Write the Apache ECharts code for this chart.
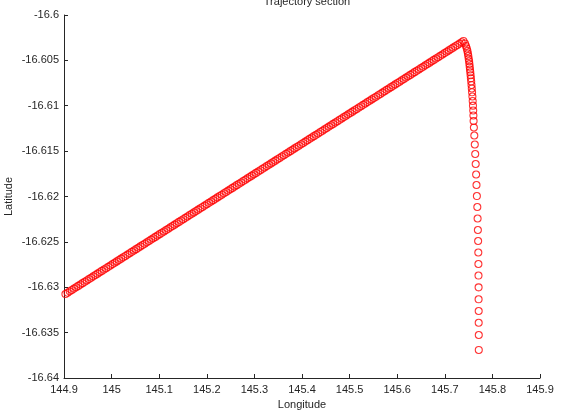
<!DOCTYPE html>
<html>
<head>
<meta charset="utf-8">
<script src="https://cdn.jsdelivr.net/npm/echarts@6/dist/echarts.min.js"></script>
<style>
html,body{margin:0;padding:0;background:#fff;}
#chart{width:569px;height:411px;}
</style>
</head>
<body>
<div id="chart"></div>
<script>
// Outbound leg (west → east, rising)
var outLon = [
144.9030,144.9075,144.9120,144.9165,144.9210,144.9255,144.9300,144.9345,144.9390,144.9435,144.9480,144.9525,144.9570,144.9615,144.9660,144.9705,144.9750,144.9795,144.9840,144.9885,
144.9930,144.9975,145.0020,145.0065,145.0110,145.0155,145.0200,145.0245,145.0290,145.0335,145.0380,145.0425,145.0470,145.0515,145.0560,145.0605,145.0650,145.0695,145.0740,145.0785,
145.0830,145.0875,145.0920,145.0965,145.1010,145.1055,145.1100,145.1145,145.1190,145.1235,145.1280,145.1325,145.1370,145.1415,145.1460,145.1505,145.1550,145.1595,145.1640,145.1685,
145.1730,145.1775,145.1820,145.1865,145.1910,145.1955,145.2000,145.2045,145.2090,145.2135,145.2180,145.2225,145.2270,145.2315,145.2360,145.2405,145.2450,145.2495,145.2540,145.2585,
145.2630,145.2675,145.2720,145.2765,145.2810,145.2855,145.2900,145.2945,145.2990,145.3035,145.3080,145.3125,145.3170,145.3215,145.3260,145.3305,145.3350,145.3395,145.3440,145.3485,
145.3530,145.3575,145.3620,145.3665,145.3710,145.3755,145.3800,145.3845,145.3890,145.3935,145.3980,145.4025,145.4070,145.4115,145.4160,145.4205,145.4250,145.4295,145.4340,145.4385,
145.4430,145.4475,145.4520,145.4565,145.4610,145.4655,145.4700,145.4745,145.4790,145.4835,145.4880,145.4925,145.4970,145.5015,145.5060,145.5105,145.5150,145.5195,145.5240,145.5285,
145.5330,145.5375,145.5420,145.5465,145.5510,145.5555,145.5600,145.5645,145.5690,145.5735,145.5780,145.5825,145.5870,145.5915,145.5960,145.6005,145.6050,145.6095,145.6140,145.6185,
145.6230,145.6275,145.6320,145.6365,145.6410,145.6455,145.6500,145.6545,145.6590,145.6635,145.6680,145.6725,145.6770,145.6815,145.6860,145.6905,145.6950,145.6995,145.7040,145.7085,
145.7130,145.7175,145.7220,145.7265,145.7310,145.7355,145.7392
];
var outLat = [
-16.63075,-16.63060,-16.63045,-16.63030,-16.63015,-16.63000,-16.62985,-16.62970,-16.62955,-16.62940,-16.62925,-16.62910,-16.62895,-16.62880,-16.62865,-16.62850,-16.62835,-16.62820,-16.62805,-16.62790,
-16.62775,-16.62760,-16.62745,-16.62730,-16.62715,-16.62700,-16.62685,-16.62670,-16.62655,-16.62640,-16.62625,-16.62610,-16.62595,-16.62580,-16.62565,-16.62550,-16.62535,-16.62520,-16.62505,-16.62490,
-16.62475,-16.62460,-16.62445,-16.62430,-16.62415,-16.62400,-16.62385,-16.62370,-16.62355,-16.62340,-16.62325,-16.62310,-16.62295,-16.62280,-16.62265,-16.62250,-16.62235,-16.62220,-16.62205,-16.62190,
-16.62175,-16.62160,-16.62145,-16.62130,-16.62115,-16.62100,-16.62085,-16.62070,-16.62055,-16.62040,-16.62025,-16.62010,-16.61995,-16.61980,-16.61965,-16.61950,-16.61935,-16.61920,-16.61905,-16.61890,
-16.61875,-16.61860,-16.61845,-16.61830,-16.61815,-16.61800,-16.61785,-16.61770,-16.61755,-16.61740,-16.61725,-16.61710,-16.61695,-16.61680,-16.61665,-16.61650,-16.61635,-16.61620,-16.61605,-16.61590,
-16.61575,-16.61560,-16.61545,-16.61530,-16.61515,-16.61500,-16.61485,-16.61470,-16.61455,-16.61440,-16.61425,-16.61410,-16.61395,-16.61380,-16.61365,-16.61350,-16.61335,-16.61320,-16.61305,-16.61290,
-16.61275,-16.61260,-16.61245,-16.61230,-16.61215,-16.61200,-16.61185,-16.61170,-16.61155,-16.61140,-16.61125,-16.61110,-16.61095,-16.61080,-16.61065,-16.61050,-16.61035,-16.61020,-16.61005,-16.60990,
-16.60975,-16.60960,-16.60945,-16.60930,-16.60915,-16.60900,-16.60885,-16.60870,-16.60855,-16.60840,-16.60825,-16.60810,-16.60795,-16.60780,-16.60765,-16.60750,-16.60735,-16.60720,-16.60705,-16.60690,
-16.60675,-16.60660,-16.60645,-16.60630,-16.60615,-16.60600,-16.60585,-16.60570,-16.60555,-16.60540,-16.60525,-16.60510,-16.60495,-16.60480,-16.60465,-16.60450,-16.60435,-16.60420,-16.60405,-16.60390,
-16.60375,-16.60360,-16.60345,-16.60330,-16.60315,-16.60300,-16.60286
];
// Return leg (turning south)
var backLon = [
145.7424,145.7445,145.7462,145.7475,145.7485,145.7494,145.7502,145.7511,145.7517,145.7523,
145.7529,145.7536,145.7542,145.7548,145.7555,145.7561,145.7567,145.7573,145.7580,145.7586,
145.7592,145.7597,145.7601,145.7605,145.7611,145.7620,145.7630,145.7639,145.7649,145.7658,
145.7666,145.7674,145.7683,145.7689,145.7695,145.7700,145.7704,145.7706,145.7708,145.7710,
145.7710,145.7712,145.7712,145.7714,145.7714
];
var backLat = [
-16.60314,-16.60342,-16.60369,-16.60397,-16.60424,-16.60452,-16.60482,-16.60510,-16.60540,-16.60570,
-16.60601,-16.60631,-16.60664,-16.60698,-16.60733,-16.60771,-16.60810,-16.60852,-16.60898,-16.60948,
-16.60999,-16.61052,-16.61107,-16.61168,-16.61240,-16.61328,-16.61427,-16.61532,-16.61642,-16.61758,
-16.61873,-16.61995,-16.62116,-16.62242,-16.62369,-16.62490,-16.62617,-16.62744,-16.62871,-16.63001,
-16.63133,-16.63262,-16.63391,-16.63526,-16.63691
];
var xTicks = [144.9,145,145.1,145.2,145.3,145.4,145.5,145.6,145.7,145.8,145.9];
var yTicks = [-16.64,-16.635,-16.63,-16.625,-16.62,-16.615,-16.61,-16.605,-16.6];

var lon = outLon.concat(backLon);
var lat = outLat.concat(backLat);
var pts = lon.map(function(v,i){return [v, lat[i]];});

var chart = echarts.init(document.getElementById('chart'), null, {renderer:'canvas'});
var font = 'Liberation Sans, Arial, sans-serif';
var axisCol = '#262626';
chart.setOption({
  animation:false,
  backgroundColor:'#fff',
  title:{
    text:'Trajectory section', left:302, textAlign:'center', top:-9,
    textStyle:{fontFamily:font, fontSize:11, fontWeight:'normal', color:'#262626'}
  },
  grid:{left:64, right:29, top:15, bottom:33, containLabel:false, outerBoundsMode:'none'},
  xAxis:{
    type:'value', min:xTicks[0], max:xTicks[xTicks.length-1], interval:0.1,
    name:'Longitude', nameLocation:'middle', nameGap:21, nameMoveOverlap:false,
    nameTextStyle:{fontFamily:font, fontSize:11, color:axisCol},
    axisLine:{show:true, onZero:false, lineStyle:{color:axisCol, width:1}},
    axisTick:{show:true, inside:true, length:4, lineStyle:{color:axisCol}},
    axisLabel:{margin:6, fontFamily:font, fontSize:11, color:axisCol,
      formatter:function(v){return String(+v.toFixed(1));}},
    splitLine:{show:false}
  },
  yAxis:{
    type:'value', min:yTicks[0], max:yTicks[yTicks.length-1], interval:0.005,
    name:'Latitude', nameLocation:'middle', nameGap:50, nameMoveOverlap:false,
    nameTextStyle:{fontFamily:font, fontSize:11, color:axisCol},
    axisLine:{show:true, onZero:false, lineStyle:{color:axisCol, width:1}},
    axisTick:{show:true, inside:true, length:4, lineStyle:{color:axisCol}},
    axisLabel:{margin:5, fontFamily:font, fontSize:11, color:axisCol,
      formatter:function(v){return String(+v.toFixed(3));}},
    splitLine:{show:false}
  },
  series:[{
    type:'scatter',
    data:pts,
    symbol:'circle',
    symbolSize:7,
    itemStyle:{color:'rgba(0,0,0,0)', borderColor:'#ff0000', borderWidth:1.1},
    silent:true
  }]
});
</script>
</body>
</html>
